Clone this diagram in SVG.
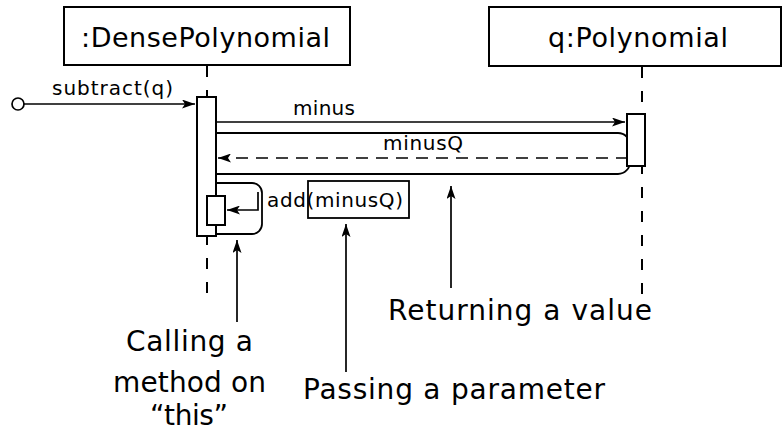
<svg xmlns="http://www.w3.org/2000/svg" width="783" height="437" viewBox="0 0 783 437">
<style>
text{font-family:"DejaVu Sans","Liberation Sans",sans-serif;fill:#000}
.box{fill:#fff;stroke:#000;stroke-width:2}
.life{stroke:#000;stroke-width:2;stroke-dasharray:11 13;fill:none}
.ln{stroke:#000;stroke-width:1.7;fill:none}
.hl{stroke:#000;stroke-width:1.8;fill:none}
.big{font-size:27px}
.lbl{font-size:20px}
.note{font-size:28px}
</style>
<defs>
<marker id="ah" viewBox="0 0 13 9" refX="13" refY="4.5" markerWidth="13" markerHeight="9" markerUnits="userSpaceOnUse" orient="auto">
<path d="M0,0 L13,4.5 L0,9 L3,4.5 Z" fill="#000"/>
</marker>
</defs>
<rect width="783" height="437" fill="#fff"/>
<g id="lifelines">
<line class="life" x1="207" y1="66" x2="207" y2="302"/>
<line class="life" x1="642" y1="67" x2="642" y2="304"/>
</g>
<g id="dense">
<rect class="box" x="64" y="7" width="286" height="58"/>
<text class="big" x="81" y="47" textLength="249">:DensePolynomial</text>
</g>
<g id="poly">
<rect class="box" x="489" y="7" width="292" height="59"/>
<text class="big" x="548" y="47" textLength="180">q:Polynomial</text>
</g>
<g id="highlights">
<path class="hl" d="M216,133 H618 A12,12 0 0 1 630,145 V162 A12,12 0 0 1 618,174 H216"/>
<path class="hl" d="M215,183 H252 A10,10 0 0 1 262,193 V224 A10,10 0 0 1 252,234 H215"/>
<rect class="hl" x="308" y="181" width="101" height="37"/>
</g>
<g id="activations">
<rect class="box" x="197" y="97" width="19" height="139"/>
<rect class="box" x="627" y="114" width="18" height="52"/>
<rect class="box" x="207" y="196" width="18" height="29"/>
</g>
<g id="connectors">
<circle cx="18" cy="104" r="6" fill="#fff" stroke="#000" stroke-width="1.7"/>
<line class="ln" x1="24" y1="104" x2="195" y2="104" marker-end="url(#ah)"/>
<line class="ln" x1="216" y1="122" x2="625" y2="122" marker-end="url(#ah)"/>
<line class="ln" x1="628" y1="158" x2="218" y2="158" stroke-dasharray="12 8" marker-end="url(#ah)"/>
<path class="ln" d="M258,192 V210 H227" marker-end="url(#ah)"/>
<line class="ln" x1="237" y1="322" x2="237" y2="240" stroke-width="2" marker-end="url(#ah)"/>
<line class="ln" x1="346" y1="372" x2="346" y2="224" stroke-width="2" marker-end="url(#ah)"/>
<line class="ln" x1="451" y1="288" x2="451" y2="186" stroke-width="2" marker-end="url(#ah)"/>
</g>
<g id="labels">
<text class="lbl" x="52" y="95" textLength="121">subtract(q)</text>
<text class="lbl" x="293" y="115" textLength="62">minus</text>
<text class="lbl" x="383" y="150" textLength="80">minusQ</text>
<text class="lbl" x="267" y="207" textLength="136">add(minusQ)</text>
<text class="note" x="126" y="351" textLength="127">Calling a</text>
<text class="note" x="113" y="392" textLength="153">method on</text>
<text class="note" x="150" y="425" textLength="78">“this”</text>
<text class="note" x="303" y="399" textLength="302">Passing a parameter</text>
<text class="note" x="388" y="320" textLength="264">Returning a value</text>
</g>
</svg>
